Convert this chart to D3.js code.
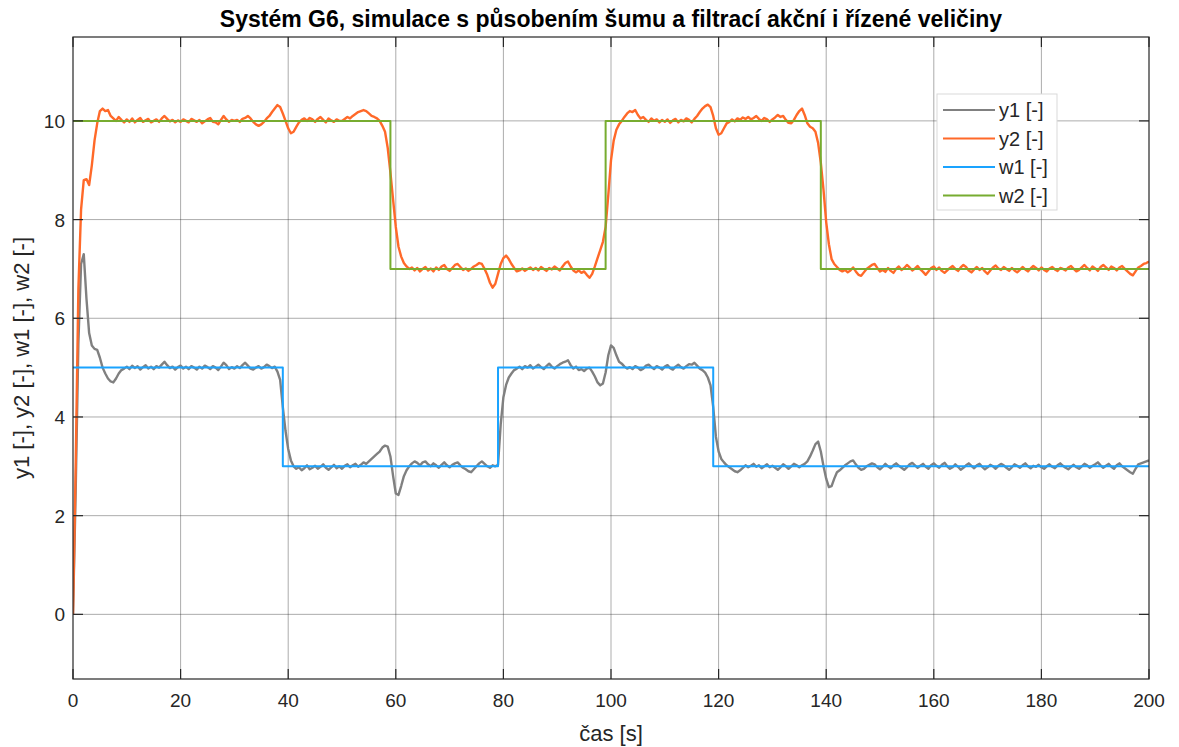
<!DOCTYPE html>
<html>
<head>
<meta charset="utf-8">
<script src="https://cdn.jsdelivr.net/npm/d3@7/dist/d3.min.js"></script>
<style>
  html, body { margin: 0; padding: 0; background: #fff; }
  svg { display: block; font-family: "Liberation Sans", Arial, sans-serif; }
</style>
</head>
<body>
<svg id="chart" width="1179" height="747"></svg>
<script>
// Sampling step of the simulated outputs [s]
const dt = 0.5;

// Controlled output y1 [-], sampled every dt from t = 0 to 200 s
const y1Values = [
  0, 2.5, 5.5, 7.1, 7.3, 6.4, 5.7, 5.45, 5.38, 5.36, 5.2, 5.0, 4.88, 4.78, 4.72, 4.7, 4.78, 4.88, 4.95, 4.98,
  5.02, 4.97, 5.04, 4.99, 5.03, 4.96, 5.01, 5.05, 4.98, 5.02, 4.97, 5.03, 5.0, 5.06, 5.12, 5.05, 4.99, 5.02, 4.96, 5.01,
  5.04, 4.98, 5.02, 4.97, 5.03, 5.0, 4.96, 5.02, 4.98, 5.04, 5.01, 4.97, 5.03, 5.0, 4.95, 5.02, 5.1, 5.05, 4.97, 5.01,
  4.98, 5.03, 4.99, 5.05, 5.1, 5.04, 4.98, 4.96, 5.0, 5.03, 4.98, 5.01, 5.06, 5.03, 4.99, 5.02, 4.92, 4.75, 4.2, 3.72,
  3.35, 3.12, 3.0, 2.95, 2.98, 2.92, 2.96, 3.02, 2.94, 2.97, 3.01, 2.95, 2.99, 3.04, 2.97, 2.93, 2.98, 3.03, 2.96, 3.0,
  2.95, 3.01, 3.04, 2.98, 3.02, 3.05, 2.99, 3.03, 3.08, 3.05, 3.1, 3.15, 3.2, 3.25, 3.3, 3.38, 3.42, 3.4, 3.2, 2.8,
  2.45, 2.42, 2.6, 2.8, 2.92, 3.0, 3.06, 3.1, 3.07, 3.02, 3.08, 3.1, 3.04, 3.0, 3.06, 3.02, 2.97, 3.03, 3.08, 3.02,
  2.98, 3.03, 3.06, 3.08, 3.02, 2.97, 2.94, 2.9, 2.88, 2.94, 3.0, 3.06, 3.1, 3.05, 3.0, 2.97, 3.02, 3.0, 3.03, 3.85,
  4.4, 4.65, 4.8, 4.88, 4.95, 4.98, 5.02, 4.97, 5.03, 5.0, 5.05, 4.98, 5.02, 5.06, 5.01, 4.97, 5.03, 5.08, 5.02, 4.98,
  5.03, 5.07, 5.1, 5.12, 5.15, 5.05, 4.98, 5.02, 4.95, 4.97, 4.93, 4.98, 5.0, 4.92, 4.82, 4.7, 4.64, 4.68, 4.9, 5.25,
  5.45, 5.4, 5.25, 5.12, 5.08, 5.02, 4.98, 5.01, 4.97, 5.03, 5.0, 4.95, 4.98, 5.04, 5.06, 5.01, 4.97, 5.03, 5.0, 4.96,
  5.02, 5.05, 4.99, 4.96, 5.02, 5.06, 5.01, 4.98, 5.03, 5.07, 5.06, 5.1, 5.04, 4.98, 4.95, 4.9, 4.8, 4.64, 4.2, 3.6,
  3.3, 3.15, 3.08, 3.02, 2.98, 2.94, 2.9, 2.88, 2.92, 2.97, 3.02, 2.98, 3.01, 3.05, 2.99, 3.02, 2.96, 3.0, 3.04, 2.98,
  3.01, 2.97, 2.93, 2.98, 3.04, 3.0, 2.95, 3.0, 3.05, 3.02, 2.98, 3.02, 3.05, 3.1, 3.2, 3.32, 3.45, 3.5, 3.3, 3.0,
  2.75, 2.58, 2.6, 2.75, 2.88, 2.92, 2.97, 3.02, 3.06, 3.1, 3.12, 3.04, 2.97, 2.93, 2.95, 3.0, 3.03, 3.06, 3.04, 2.98,
  2.94, 2.99, 3.05, 3.0, 2.96, 3.02, 3.06, 3.01, 2.97, 2.93, 2.98, 3.04, 3.07, 3.02, 2.97, 3.01, 3.05, 2.99, 2.95, 3.02,
  3.06, 3.01, 2.97, 3.03, 3.07, 3.0, 2.95, 2.98, 3.04, 2.99, 2.93, 2.97, 3.02, 3.06, 3.01, 2.96, 3.02, 3.05, 2.99, 2.94,
  2.98, 3.03, 3.0, 2.95, 3.01, 3.05, 3.02, 2.97, 2.93, 2.98, 3.04, 3.01, 2.97, 3.02, 3.06, 3.0, 2.96, 3.01, 2.99, 3.03,
  2.98, 2.95, 3.0, 3.04, 2.99, 2.96, 3.02, 3.06, 3.01, 2.97, 2.94, 2.99, 3.03, 2.98, 2.95, 3.0, 3.05, 3.02, 2.97, 3.01,
  3.04, 3.08, 3.02, 2.97, 3.01, 3.05, 2.99, 2.95, 3.02, 3.06, 3.0, 2.96, 2.92, 2.88, 2.85, 2.95, 3.04, 3.06, 3.08, 3.1,
  3.12
];

// Controlled output y2 [-], sampled every dt from t = 0 to 200 s
const y2Values = [
  0, 3.0, 6.6, 8.2, 8.8, 8.82, 8.7, 9.1, 9.6, 9.95, 10.2, 10.25, 10.2, 10.22, 10.1, 10.05, 10.0, 10.08, 10.02, 9.97,
  10.03, 9.98, 10.05, 9.97, 10.02, 10.06, 9.98, 10.01, 10.04, 9.97, 10.0, 10.03, 9.98, 10.05, 10.1, 10.04, 9.99, 10.02, 9.97, 10.01,
  9.98, 10.03, 10.0, 9.97, 10.04, 10.01, 9.98, 10.02, 9.95, 9.99, 10.03, 10.06, 9.98, 9.97, 9.93, 10.02, 10.1, 10.03, 9.98, 10.02,
  10.0, 10.02, 9.98, 10.04, 10.06, 10.1, 10.05, 9.98, 9.93, 9.9, 9.93, 9.98, 10.05, 10.1, 10.18, 10.25, 10.32, 10.28, 10.15, 10.0,
  9.85, 9.75, 9.78, 9.88, 9.97, 10.02, 10.05, 10.0, 10.06, 10.03, 9.98, 10.04, 10.08, 10.02, 9.97, 10.05, 10.01, 9.98, 10.03, 10.0,
  10.0, 10.04, 10.08, 10.05, 10.1, 10.14, 10.18, 10.2, 10.22, 10.2, 10.15, 10.1, 10.08, 10.05, 10.0, 9.9, 9.78, 9.45, 8.95, 8.4,
  7.85, 7.45, 7.25, 7.12, 7.05, 7.0, 7.03, 6.97, 7.02, 6.95, 7.0, 7.04, 6.97, 7.01, 6.95, 7.03, 6.98, 7.05, 7.08, 7.0,
  6.96, 7.02, 7.08, 7.1, 7.04, 6.98, 7.01, 6.96, 7.0, 7.05, 7.08, 7.12, 7.1, 7.0, 6.88, 6.72, 6.62, 6.7, 6.9, 7.1,
  7.22, 7.27, 7.2, 7.1, 7.02, 6.95, 6.97, 7.01, 6.96, 7.0, 7.03, 6.98, 7.02, 6.97, 7.04, 7.0, 6.96, 7.02, 6.99, 7.05,
  7.01, 6.97, 7.05, 7.12, 7.15, 7.05, 6.97, 6.93, 6.97, 6.92, 6.95, 6.88, 6.82, 6.9, 7.05, 7.22, 7.38, 7.55, 7.85, 8.5,
  9.2, 9.6, 9.82, 9.93, 10.0, 10.08, 10.15, 10.2, 10.18, 10.22, 10.12, 10.05, 10.08, 10.02, 9.98, 10.05, 10.0, 10.03, 9.97, 10.02,
  9.98, 10.03, 9.96, 10.01, 10.04, 9.97, 10.02, 9.99, 10.05, 10.02, 9.97, 10.04, 10.1, 10.18, 10.25, 10.3, 10.33, 10.28, 10.1, 9.85,
  9.72, 9.75, 9.85, 9.95, 9.98, 10.03, 9.99, 10.05, 10.02, 10.07, 10.04, 10.08, 10.03, 10.06, 10.1, 10.04, 10.0, 10.06, 10.03, 9.98,
  10.03, 10.07, 10.12, 10.08, 10.1, 10.02, 9.96, 9.95, 10.02, 10.12, 10.2, 10.25, 10.12, 9.95, 9.88, 9.85, 9.78, 9.55, 9.15, 8.6,
  7.95, 7.5, 7.2, 7.1, 7.04, 6.98, 6.95, 6.98, 6.93, 6.97, 7.03, 6.95, 6.88, 6.86, 6.93, 7.0, 7.04, 7.08, 7.1, 7.02,
  6.95, 6.98, 6.94, 7.02, 6.96, 6.92, 7.0, 7.05, 6.98, 7.02, 7.08, 7.03, 6.97, 7.01, 7.06, 6.99, 6.94, 6.88, 6.95, 7.02,
  7.05, 6.98, 7.03, 6.96, 6.92, 6.97, 7.02, 7.06, 7.0, 6.96, 7.03, 7.08, 7.04, 6.97, 6.93, 6.99, 7.04, 6.98, 7.02, 6.95,
  6.9, 6.97, 7.03, 7.07, 7.01, 6.98, 7.04, 7.0, 6.96, 7.02, 6.97, 6.93, 6.98, 7.04, 6.99, 6.95, 7.01, 7.06, 7.02, 6.97,
  7.03, 6.98, 6.95, 7.01, 7.04, 6.99, 6.96, 7.02, 7.0, 6.97, 7.03, 7.06, 7.0, 6.95, 6.98, 7.03, 7.08, 7.02, 6.97, 7.05,
  7.01, 6.96, 7.04, 7.08, 7.03, 6.98, 7.05, 7.02, 6.97, 7.03, 7.06, 7.0, 6.95, 6.9, 6.87, 6.95, 7.03, 7.06, 7.1, 7.12,
  7.15
];

// Setpoints w1, w2 [-]: piecewise constant, value holds from each time until the next
const w1Times  = [0, 39, 79, 119, 200];
const w1Values = [5, 3, 5, 3, 3];
const w2Times  = [0, 59, 99, 139, 200];
const w2Values = [10, 7, 10, 7, 7];

// Axis ticks
const xTicks = [0, 20, 40, 60, 80, 100, 120, 140, 160, 180, 200];
const yTicks = [0, 2, 4, 6, 8, 10];

const seriesNames  = ["y1 [-]", "y2 [-]", "w1 [-]", "w2 [-]"];
const seriesColors = ["#808080", "#ff6929", "#1aa3ff", "#77ac30"];

const svg = d3.select("#chart");
const plot = { left: 73, right: 1149, top: 37, bottom: 679 };

const x = d3.scaleLinear().domain([0, 200]).range([plot.left, plot.right]);
const y = d3.scaleLinear().domain([-1.31, 11.7]).range([plot.bottom, plot.top]);

// Grid
const grid = svg.append("g").attr("stroke", "#262626").attr("stroke-opacity", 0.38).attr("stroke-width", 1);
xTicks.slice(1, -1).forEach(t => {
  grid.append("line").attr("x1", x(t)).attr("x2", x(t)).attr("y1", plot.top).attr("y2", plot.bottom);
});
yTicks.forEach(t => {
  grid.append("line").attr("x1", plot.left).attr("x2", plot.right).attr("y1", y(t)).attr("y2", y(t));
});

// Data series
const toPoints = vals => vals.map((v, i) => [i * dt, v]);
const toSteps = (ts, vs) => ts.map((t, i) => [t, vs[i]]);

const line = d3.line().x(d => x(d[0])).y(d => y(d[1]));
const stepLine = d3.line().x(d => x(d[0])).y(d => y(d[1])).curve(d3.curveStepAfter);

svg.append("clipPath").attr("id", "plotClip")
  .append("rect").attr("x", plot.left).attr("y", plot.top)
  .attr("width", plot.right - plot.left).attr("height", plot.bottom - plot.top);

const lines = svg.append("g").attr("clip-path", "url(#plotClip)").attr("fill", "none")
  .attr("stroke-linejoin", "round");

lines.append("path").attr("d", line(toPoints(y1Values))).attr("stroke", seriesColors[0]).attr("stroke-width", 2.4);
lines.append("path").attr("d", line(toPoints(y2Values))).attr("stroke", seriesColors[1]).attr("stroke-width", 2.4);
lines.append("path").attr("d", stepLine(toSteps(w1Times, w1Values))).attr("stroke", seriesColors[2]).attr("stroke-width", 2);
lines.append("path").attr("d", stepLine(toSteps(w2Times, w2Values))).attr("stroke", seriesColors[3]).attr("stroke-width", 2);

// Axes box with inward ticks on all four sides
const axisColor = "#262626";
const tickLen = 10;
const axes = svg.append("g").attr("stroke", axisColor).attr("stroke-width", 1.2);
axes.append("rect").attr("x", plot.left).attr("y", plot.top)
  .attr("width", plot.right - plot.left).attr("height", plot.bottom - plot.top).attr("fill", "none");
xTicks.forEach(t => {
  axes.append("line").attr("x1", x(t)).attr("x2", x(t)).attr("y1", plot.bottom).attr("y2", plot.bottom - tickLen);
  axes.append("line").attr("x1", x(t)).attr("x2", x(t)).attr("y1", plot.top).attr("y2", plot.top + tickLen);
});
yTicks.forEach(t => {
  axes.append("line").attr("x1", plot.left).attr("x2", plot.left + tickLen).attr("y1", y(t)).attr("y2", y(t));
  axes.append("line").attr("x1", plot.right).attr("x2", plot.right - tickLen).attr("y1", y(t)).attr("y2", y(t));
});

// Tick labels
const labels = svg.append("g").attr("fill", axisColor).attr("font-size", 19);
xTicks.forEach(t => {
  labels.append("text").attr("x", x(t)).attr("y", plot.bottom + 28)
    .attr("text-anchor", "middle").text(t);
});
yTicks.forEach(t => {
  labels.append("text").attr("x", plot.left - 8).attr("y", y(t) + 7)
    .attr("text-anchor", "end").text(t);
});

// Axis titles and chart title
svg.append("text").attr("x", (plot.left + plot.right) / 2).attr("y", 741)
  .attr("text-anchor", "middle").attr("font-size", 22).attr("fill", axisColor).text("čas [s]");
svg.append("text")
  .attr("transform", `translate(29,${(plot.top + plot.bottom) / 2}) rotate(-90)`)
  .attr("text-anchor", "middle").attr("font-size", 22).attr("fill", axisColor)
  .text("y1 [-], y2 [-], w1 [-], w2 [-]");
svg.append("text").attr("x", (plot.left + plot.right) / 2).attr("y", 27)
  .attr("text-anchor", "middle").attr("font-size", 23).attr("font-weight", "bold").attr("fill", "#000")
  .text("Systém G6, simulace s působením šumu a filtrací akční i řízené veličiny");

// Legend
const legend = svg.append("g");
legend.append("rect").attr("x", 937).attr("y", 94).attr("width", 120).attr("height", 116)
  .attr("fill", "#fff").attr("stroke", "#d9d9d9").attr("stroke-width", 1);
seriesNames.forEach((name, i) => {
  const yy = 110 + i * 28.5;
  legend.append("line").attr("x1", 943).attr("x2", 995).attr("y1", yy).attr("y2", yy)
    .attr("stroke", seriesColors[i]).attr("stroke-width", 2);
  legend.append("text").attr("x", 999).attr("y", yy + 7).attr("font-size", 20)
    .attr("fill", axisColor).text(name);
});
</script>
</body>
</html>
